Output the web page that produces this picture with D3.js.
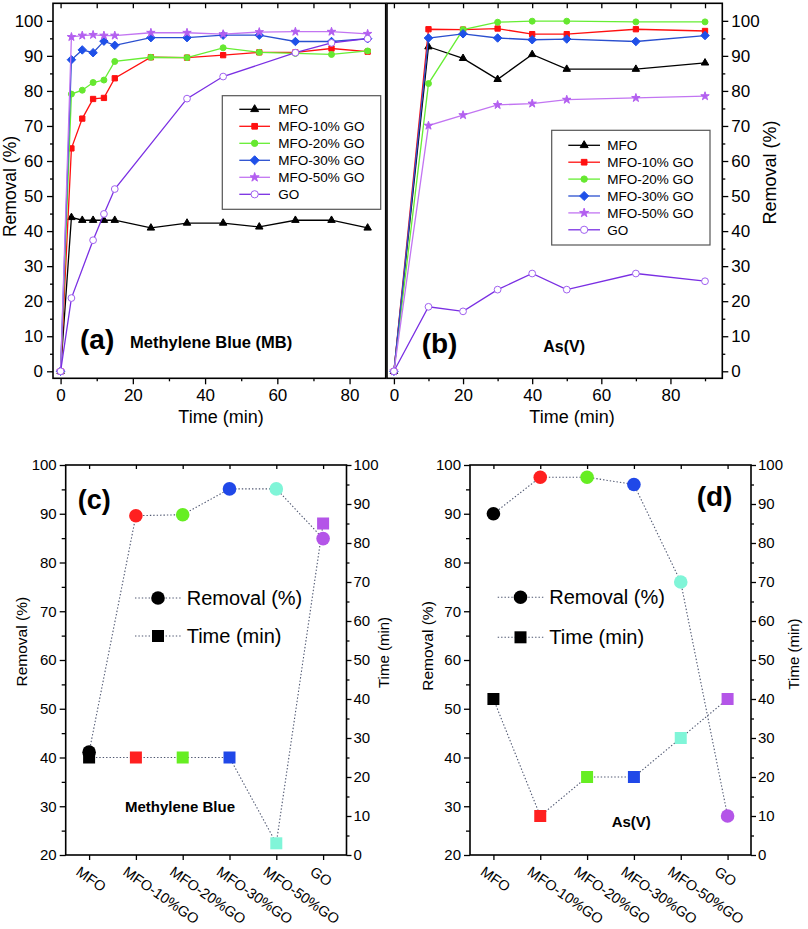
<!DOCTYPE html>
<html><head><meta charset="utf-8">
<script src="https://cdn.jsdelivr.net/npm/d3@7"></script>
<style>body{margin:0;background:#fff}svg{display:block}</style>
</head><body>
<script>
// ---------- DATA ----------
const seriesNames = ["MFO","MFO-10% GO","MFO-20% GO","MFO-30% GO","MFO-50% GO","GO"];
const timeMB = [0,3,6,9,12,15,25,35,45,55,65,75,85];
const timeMBGO = [0,3,9,12,15,35,45,65,75,85];
const mbMFO   = [0,43.9,43.1,43.1,43.1,43.1,40.9,42.3,42.3,41.2,43.1,43.1,40.9];
const mbMFO10 = [0,63.6,72.1,77.7,78.0,83.6,89.6,89.5,90.2,91.0,91.0,92.1,91.2];
const mbMFO20 = [0,79.1,80.2,82.4,83.1,88.4,89.6,89.5,92.3,91.0,90.7,90.4,91.4];
const mbMFO30 = [0,88.9,91.7,90.9,94.2,93.0,95.2,95.2,95.9,95.9,94.1,94.1,94.9];
const mbMFO50 = [0,95.4,95.8,96.0,95.8,95.8,96.6,96.6,96.2,96.8,96.9,96.9,96.3];
const mbGO    = [0,20.9,37.4,44.9,52.0,77.8,84.1,90.9,93.7,94.9];

const timeAs = [0,10,20,30,40,50,70,90];
const asMFO   = [0,92.6,89.3,83.3,90.4,86.2,86.2,88.0];
const asMFO10 = [0,97.6,97.5,97.8,96.2,96.2,97.6,97.1];
const asMFO20 = [0,82.1,97.5,99.6,99.9,99.9,99.7,99.7];
const asMFO30 = [0,95.1,96.3,95.1,94.6,94.8,94.1,95.8];
const asMFO50 = [0,70.1,73.1,76.0,76.4,77.5,78.0,78.5];
const asGO    = [0,18.4,17.1,23.3,27.9,23.3,27.9,25.7];

const categories = ["MFO","MFO-10%GO","MFO-20%GO","MFO-30%GO","MFO-50%GO","GO"];
const mbRemoval = [41.1,89.6,89.8,95.1,95.1,84.9];
const mbTime    = [25,25,25,25,3,85];
const asRemoval = [90.0,97.5,97.5,96.0,76.0,28.0];
const asTime    = [40,10,20,20,30,40];

const yTicksRemoval = [0,10,20,30,40,50,60,70,80,90,100];
const xTicksTime = [0,20,40,60,80];

// ---------- STYLE ----------
const F = "'Liberation Sans', Arial, sans-serif";
const styles = [
  {line:"#000000", fill:"#000000", stroke:"#000000", sym:d3.symbolTriangle, size:24},
  {line:"#ff1010", fill:"#ff1010", stroke:"#ff1010", sym:d3.symbolSquare, size:28},
  {line:"#66ee33", fill:"#66e830", stroke:"#66e830", sym:d3.symbolCircle, size:28},
  {line:"#2a4fcf", fill:"#1f50e8", stroke:"#1f50e8", sym:d3.symbolDiamond2, size:46},
  {line:"#c275f2", fill:"#b35ff0", stroke:"#b35ff0", sym:d3.symbolStar, size:22},
  {line:"#7a2fe3", fill:"#ffffff", stroke:"#a060f0", sym:d3.symbolCircle, size:36}
];
const catColors = ["#000000","#ff2020","#66ee22","#2048e8","#80f5d8","#b455e8"];

const svg = d3.select("body").append("svg").attr("width",808).attr("height",929)
  .style("font-family",F);

function styleAxis(a, fs){
  a.select(".domain").remove();
  a.selectAll("line").attr("stroke","#000").attr("stroke-width",1.3);
  a.selectAll("text").attr("font-family",F).attr("font-size",fs).attr("fill","#000");
  return a;
}
function addAxis(gen, tr, fs){
  return styleAxis(svg.append("g").attr("transform",tr).call(gen), fs||15);
}
function frame(x0,y0,x1,y1){
  svg.append("rect").attr("x",x0).attr("y",y0).attr("width",x1-x0).attr("height",y1-y0)
    .attr("fill","none").attr("stroke","#000").attr("stroke-width",1.6);
}
function txt(x,y,s,fs,opt){
  opt = opt||{};
  const t = svg.append("text").attr("x",x).attr("y",y).text(s)
    .attr("font-size",fs).attr("font-family",F).attr("fill","#000")
    .attr("text-anchor",opt.anchor||"start");
  if(opt.bold) t.attr("font-weight","bold");
  if(opt.rot!==undefined) t.attr("x",null).attr("y",null).attr("transform",`translate(${x},${y}) rotate(${opt.rot})`);
  return t;
}

// ---------- PANEL a / b (kinetics) ----------
function kinetic(xs, ys, times, timesGO, data, legendBox){
  const g = svg.append("g");
  data.forEach((vals,i)=>{
    const t = (i===5) ? timesGO : times;
    const st = styles[i];
    const pts = vals.map((v,k)=>[xs(t[k]), ys(v)]);
    g.append("path").attr("d", d3.line()(pts)).attr("fill","none")
      .attr("stroke",st.line).attr("stroke-width",1.3);
    g.selectAll(null).data(pts).enter().append("path")
      .attr("transform",d=>`translate(${d[0]},${d[1]})`)
      .attr("d", d3.symbol(st.sym, st.size)())
      .attr("fill",st.fill).attr("stroke",st.stroke).attr("stroke-width",1);
  });
  // legend
  const L = legendBox;
  svg.append("rect").attr("x",L.x).attr("y",L.y).attr("width",L.w).attr("height",L.h)
    .attr("fill","#fff").attr("stroke","#555").attr("stroke-width",1.2);
  seriesNames.forEach((n,i)=>{
    const y = L.row0 + i*L.dy, st = styles[i];
    svg.append("line").attr("x1",L.lx0).attr("x2",L.lx1).attr("y1",y).attr("y2",y)
      .attr("stroke",st.line).attr("stroke-width",1.3);
    svg.append("path").attr("transform",`translate(${(L.lx0+L.lx1)/2},${y})`)
      .attr("d", d3.symbol(st.sym, st.size*1.15)())
      .attr("fill",st.fill).attr("stroke",st.stroke).attr("stroke-width",1);
    txt(L.tx, y+4.8, n, 13.5);
  });
}

// Panel a
const xA = d3.scaleLinear([-2.1,90],[53,385.7]);
const yA = d3.scaleLinear([-2,105],[378.3,3.3]);
kinetic(xA, yA, timeMB, timeMBGO, [mbMFO,mbMFO10,mbMFO20,mbMFO30,mbMFO50,mbGO],
  {x:222.3,y:95.7,w:158.4,h:113.6,row0:109.3,dy:17,lx0:239.3,lx1:270,tx:278.3});
addAxis(d3.axisLeft(yA).tickValues(yTicksRemoval).tickSize(6).tickPadding(4).tickSizeOuter(0),"translate(53,0)",17);
addAxis(d3.axisLeft(yA).tickValues(d3.range(5,100,10)).tickSize(3).tickFormat(""),"translate(53,0)");
addAxis(d3.axisBottom(xA).tickValues(xTicksTime).tickSize(6).tickPadding(5).tickSizeOuter(0),"translate(0,378.3)",17);
addAxis(d3.axisBottom(xA).tickValues([10,30,50,70]).tickSize(3).tickFormat(""),"translate(0,378.3)");
addAxis(d3.axisTop(xA).tickValues(d3.range(0,81,10)).tickSize(-5).tickFormat(""),"translate(0,3.3)");
frame(53,3.3,385.7,378.3);
txt(15.5,186.5,"Removal (%)",17.5,{anchor:"middle",rot:-90});
txt(221,423,"Time (min)",18,{anchor:"middle"});
txt(80,349,"(a)",28,{bold:true});
txt(130,347.5,"Methylene Blue (MB)",16.5,{bold:true});

// Panel b
const xB = d3.scaleLinear([-2,95],[387,722.3]);
const yB = d3.scaleLinear([-2,105],[378.3,3.3]);
kinetic(xB, yB, timeAs, timeAs, [asMFO,asMFO10,asMFO20,asMFO30,asMFO50,asGO],
  {x:551.7,y:130.3,w:158.3,h:114.7,row0:145.3,dy:16.9,lx0:568.3,lx1:600,tx:607.3});
addAxis(d3.axisRight(yB).tickValues(yTicksRemoval).tickSize(6).tickPadding(3).tickSizeOuter(0),"translate(722.3,0)",17);
addAxis(d3.axisRight(yB).tickValues(d3.range(5,100,10)).tickSize(3).tickFormat(""),"translate(722.3,0)");
addAxis(d3.axisBottom(xB).tickValues(xTicksTime).tickSize(6).tickPadding(5).tickSizeOuter(0),"translate(0,378.3)",17);
addAxis(d3.axisBottom(xB).tickValues([10,30,50,70,90]).tickSize(3).tickFormat(""),"translate(0,378.3)");
addAxis(d3.axisTop(xB).tickValues(d3.range(0,91,10)).tickSize(-5).tickFormat(""),"translate(0,3.3)");
frame(387,3.3,722.3,378.3);
txt(776,172.5,"Removal (%)",18,{anchor:"middle",rot:-90});
txt(572,423,"Time (min)",18,{anchor:"middle"});
txt(421.7,353,"(b)",28,{bold:true});
txt(543.3,352,"As(V)",16,{bold:true});

// ---------- PANEL c / d (summary) ----------
function summary(x0,x1,removal,time,leg){
  const xs = d3.scalePoint(categories,[x0,x1]).padding(0.5);
  const yl = d3.scaleLinear([20,100],[855,465]);
  const yr = d3.scaleLinear([0,100],[855,465]);
  const dot = {stroke:"#4e5670", w:1.1, dash:"1.4,2"};
  const lr = d3.line().x((d,i)=>xs(categories[i])).y(d=>yl(d));
  const lt = d3.line().x((d,i)=>xs(categories[i])).y(d=>yr(d));
  [lr(removal), lt(time)].forEach(p=>svg.append("path").attr("d",p).attr("fill","none")
    .attr("stroke",dot.stroke).attr("stroke-width",dot.w).attr("stroke-dasharray",dot.dash));
  time.forEach((v,i)=>svg.append("rect").attr("x",xs(categories[i])-6).attr("y",yr(v)-6)
    .attr("width",12).attr("height",12).attr("fill",catColors[i]));
  removal.forEach((v,i)=>svg.append("circle").attr("cx",xs(categories[i])).attr("cy",yl(v))
    .attr("r",6.8).attr("fill",catColors[i]));
  // axes
  addAxis(d3.axisLeft(yl).tickValues(d3.range(20,101,10)).tickSize(6).tickPadding(3).tickSizeOuter(0),`translate(${x0},0)`,15);
  addAxis(d3.axisLeft(yl).tickValues(d3.range(25,100,10)).tickSize(4).tickFormat(""),`translate(${x0},0)`);
  addAxis(d3.axisRight(yr).tickValues(d3.range(0,101,10)).tickSize(5).tickPadding(2).tickSizeOuter(0),`translate(${x1},0)`,15);
  addAxis(d3.axisRight(yr).tickValues(d3.range(5,100,10)).tickSize(3).tickFormat(""),`translate(${x1},0)`);
  addAxis(d3.axisBottom(xs).tickSize(5).tickFormat("").tickSizeOuter(0),"translate(0,855)");
  addAxis(d3.axisTop(xs).tickSize(-4).tickFormat("").tickSizeOuter(0),"translate(0,465)");
  frame(x0,465,x1,855);
  categories.forEach(c=>txt(xs(c)-14, 874, c, 14.5, {rot:35}));
  // legend
  [[leg.y1,"Removal (%)","c"],[leg.y2,"Time (min)","s"]].forEach(([y,label,m])=>{
    svg.append("line").attr("x1",leg.lx0).attr("x2",leg.lx1).attr("y1",y).attr("y2",y)
      .attr("stroke",dot.stroke).attr("stroke-width",dot.w).attr("stroke-dasharray",dot.dash);
    const cx=(leg.lx0+leg.lx1)/2;
    if(m==="c") svg.append("circle").attr("cx",cx).attr("cy",y).attr("r",6.8).attr("fill","#000");
    else svg.append("rect").attr("x",cx-6).attr("y",y-6).attr("width",12).attr("height",12).attr("fill","#000");
    txt(leg.tx, y+7, label, 20);
  });
}

summary(65.7,346.5,mbRemoval,mbTime,{y1:598,y2:636,lx0:135,lx1:181,tx:186.7});
txt(26.7,641.7,"Removal (%)",15.5,{anchor:"middle",rot:-90});
txt(388.5,652.5,"Time (min)",15,{anchor:"middle",rot:-90});
txt(77.7,508.7,"(c)",27,{bold:true});
txt(125,812,"Methylene Blue",15,{bold:true});

summary(470,751,asRemoval,asTime,{y1:597.3,y2:637.3,lx0:497.7,lx1:543.3,tx:549.3});
txt(433,646,"Removal (%)",15.5,{anchor:"middle",rot:-90});
txt(798.5,654,"Time (min)",15,{anchor:"middle",rot:-90});
txt(696.7,506,"(d)",28,{bold:true});
txt(611.7,827,"As(V)",15,{bold:true});
</script>
</body></html>
